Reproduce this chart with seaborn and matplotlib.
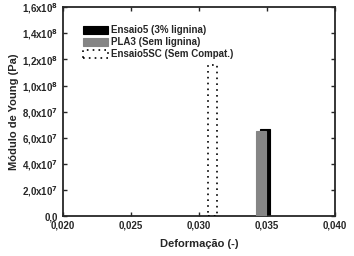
import matplotlib
matplotlib.use("Agg")
import matplotlib.pyplot as plt
import seaborn as sns
from matplotlib.ticker import FuncFormatter, MultipleLocator

# data
series = ["Ensaio5 (3% lignina)", "PLA3 (Sem lignina)", "Ensaio5SC (Sem Compat.)"]
deformacao = [0.03485, 0.03455, 0.0310]
modulo = [6.7e7, 6.5e7, 1.16e8]
largura = 0.0007

sns.set_style("ticks")
plt.rcParams["font.family"] = ["Liberation Sans", "DejaVu Sans"]
plt.rcParams["font.weight"] = "bold"

fig, ax = plt.subplots(figsize=(3.54, 2.56), dpi=100)
fig.subplots_adjust(left=0.178, right=0.946, top=0.972, bottom=0.156)

ax.bar(deformacao[0], modulo[0], width=largura, color="black", edgecolor="black",
       linewidth=0.8, label=series[0], zorder=2)
ax.bar(deformacao[1], modulo[1], width=largura, color="#858585", edgecolor="#858585",
       linewidth=0.8, label=series[1], zorder=3)
ax.bar(deformacao[2], modulo[2], width=largura, facecolor="none", edgecolor="black",
       linewidth=1.2, linestyle=(0, (1, 2.5)), label=series[2], zorder=3)

ax.set_xlim(0.020, 0.040)
ax.set_ylim(0, 1.6e8)
ax.xaxis.set_major_locator(MultipleLocator(0.005))
ax.yaxis.set_major_locator(MultipleLocator(2e7))


def yfmt(v, pos):
    if v == 0:
        return "0,0"
    exp = len(str(int(round(v)))) - 1
    mant = v / 10 ** exp
    return ("%.1f" % mant).replace(".", ",") + "x10$^{%d}$" % exp


ax.yaxis.set_major_formatter(FuncFormatter(yfmt))
ax.xaxis.set_major_formatter(FuncFormatter(lambda v, p: ("%.3f" % v).replace(".", ",")))
ax.tick_params(direction="in", top=True, right=True, labelsize=7, length=3, width=1)
for s in ax.spines.values():
    s.set_linewidth(1.3)

ax.set_xlabel("Deformação (-)", fontsize=8, fontweight="bold", labelpad=6)
ax.set_ylabel("Módulo de Young (Pa)", fontsize=8, fontweight="bold", labelpad=2)

ax.legend(loc="upper left", bbox_to_anchor=(0.04, 0.955), frameon=False, fontsize=7,
          handlelength=2.6, handleheight=0.95, handletextpad=0.3, labelspacing=0.2,
          borderaxespad=0.5)

fig.savefig("out.png", dpi=100)
